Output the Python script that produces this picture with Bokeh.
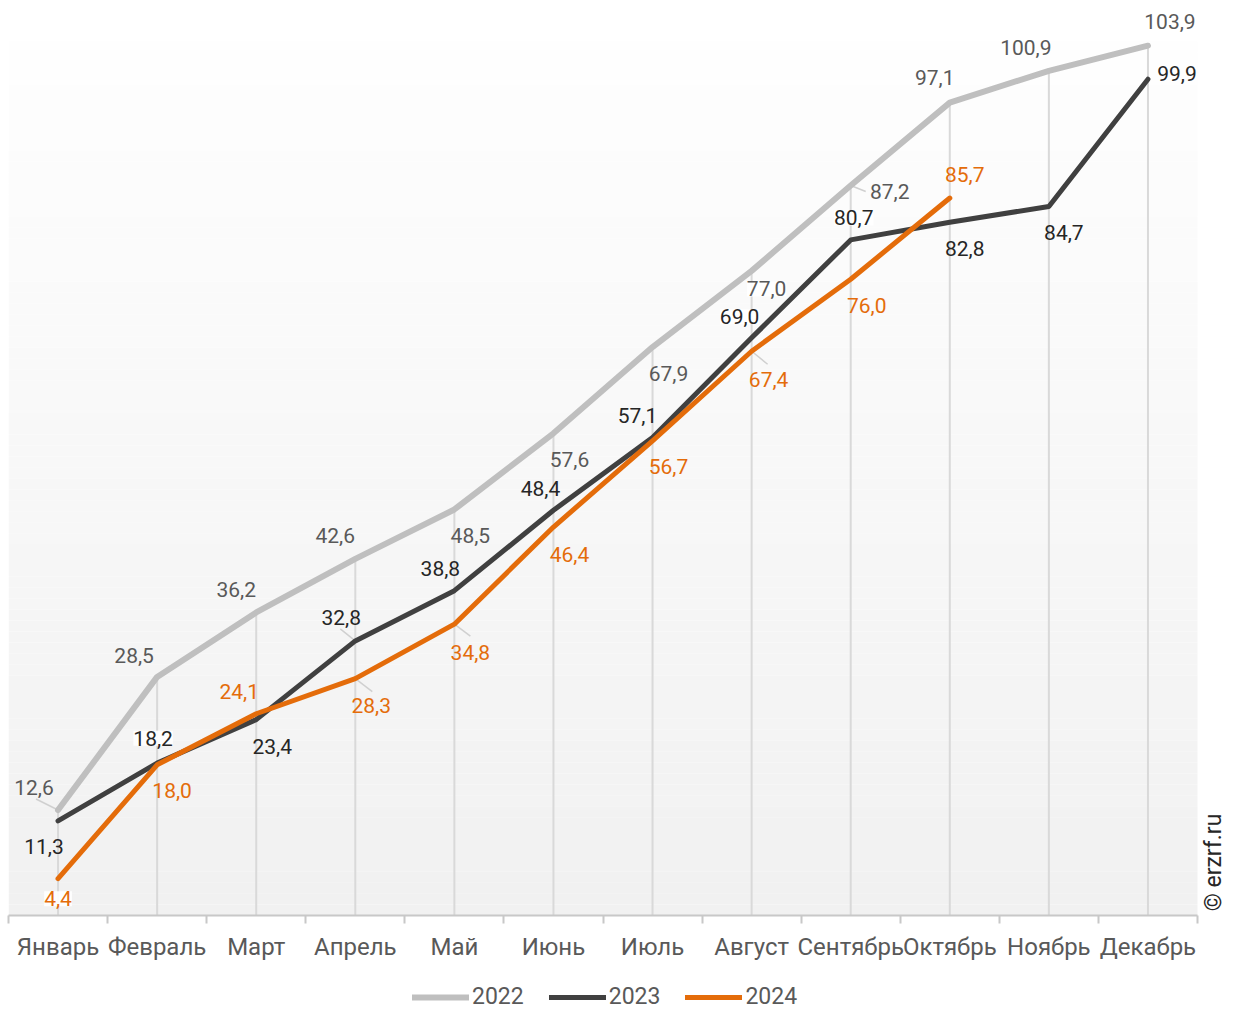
import math
from bokeh.plotting import figure
from bokeh.layouts import column
from bokeh.core.properties import value
from bokeh.models import (ColumnDataSource, LabelSet, Label, Legend, LegendItem,
                          FixedTicker, Range1d, CustomJSTickFormatter)
from bokeh.embed import file_html
from bokeh.resources import INLINE

# ---------------- data ----------------
months = ["Январь", "Февраль", "Март", "Апрель", "Май", "Июнь", "Июль",
          "Август", "Сентябрь", "Октябрь", "Ноябрь", "Декабрь"]
v2022 = [12.6, 28.5, 36.2, 42.6, 48.5, 57.6, 67.9, 77.0, 87.2, 97.1, 100.9, 103.9]
v2023 = [11.3, 18.2, 23.4, 32.8, 38.8, 48.4, 57.1, 69.0, 80.7, 82.8, 84.7, 99.9]
v2024 = [4.4, 18.0, 24.1, 28.3, 34.8, 46.4, 56.7, 67.4, 76.0, 85.7]
series_names = ["2022", "2023", "2024"]

# ---------------- styles / label placement (screen px: right, up) ----------------
colors = {"2022": "#bfbfbf", "2023": "#404040", "2024": "#e46c0a"}
label_colors = {"2022": "#595959", "2023": "#262626", "2024": "#e46c0a"}
widths = {"2022": 6, "2023": 5, "2024": 5}
offsets = {
    "2022": [(-24, 23), (-23, 21), (-20, 23), (-20, 23), (16, -26), (16, -26), (16, -26),
             (15, -18), (39, -6), (-15, 25), (-23, 23), (22, 24)],
    "2023": [(-14, -26), (-4, 25), (16, -27), (-14, 23), (-14, 22), (-13, 22), (-15, 22),
             (-12, 21), (3, 22), (15, -26), (15, -26), (29, 6)],
    "2024": [(0, -20), (15, -26), (-17, 22), (16, -27), (16, -28), (16, -27), (16, -26),
             (17, -28), (16, -26), (15, 24)],
}
boxed = {"2022": [7], "2023": [1, 7, 8], "2024": [0]}
leaders = [("2022", 0, (-22, 11)), ("2023", 3, (-15, 12)), ("2024", 3, (17, -13)),
           ("2024", 4, (16, -12)), ("2022", 8, (15, -6)), ("2024", 7, (16, -13))]

values = {"2022": v2022, "2023": v2023, "2024": v2024}

FIG_W, FIG_H = 1234, 965
LEG_H = 45
B_LEFT, B_BOTTOM = 8, 50
PLOT_RIGHT_GAP = 37   # px between plot area right edge and figure edge
PLOT_TOP_GAP = 41     # px between figure top and plot area top
Y_MAX = 104.4
n = len(months)
frame_w = FIG_W - B_LEFT
frame_h = FIG_H - B_BOTTOM
px_x = (frame_w - PLOT_RIGHT_GAP) / n
px_y = (frame_h - PLOT_TOP_GAP) / Y_MAX
x_hi = n - 0.5 + PLOT_RIGHT_GAP / px_x
y_hi = Y_MAX + PLOT_TOP_GAP / px_y

p = figure(width=FIG_W, height=FIG_H, x_range=Range1d(-0.5, x_hi),
           y_range=Range1d(0, y_hi), output_backend="svg", toolbar_location=None,
           y_axis_location=None, min_border_left=B_LEFT, min_border_right=0,
           min_border_top=0, min_border_bottom=B_BOTTOM)
p.outline_line_color = None
p.xgrid.visible = False
p.ygrid.visible = False
p.background_fill_color = "white"
p.border_fill_color = "white"

# gradient background via bands
nb = 80
lo_c, hi_c = 241, 254
band_b, band_t, band_c = [], [], []
for k in range(nb):
    band_b.append(Y_MAX * k / nb)
    band_t.append(Y_MAX * (k + 1) / nb)
    t = k / (nb - 1)
    c = int(round(lo_c + (hi_c - lo_c) * t))
    band_c.append("#%02x%02x%02x" % (c, c, c))
p.quad(left=-0.5, right=n - 0.5, bottom=band_b, top=band_t, fill_color=band_c,
       line_color=None)

# drop lines
xs = list(range(n))
tops = []
for i in xs:
    tops.append(max(values[s][i] for s in series_names if i < len(values[s])))
p.segment(x0=xs, y0=[0] * n, x1=xs, y1=tops, line_color="#d9d9d9", line_width=2)

# leader lines
lx0, ly0, lx1, ly1 = [], [], [], []
for s, i, (dx, dy) in leaders:
    v = values[s][i]
    lx0.append(i); ly0.append(v)
    lx1.append(i + dx / px_x); ly1.append(v + dy / px_y)
p.segment(x0=lx0, y0=ly0, x1=lx1, y1=ly1, line_color="#d0d0d0", line_width=1.5)

for s in series_names:
    vals = values[s]
    p.line(x=list(range(len(vals))), y=vals, line_color=colors[s],
           line_width=widths[s], line_cap="round", line_join="round")

for s in series_names:
    vals = values[s]
    for boxflag in (False, True):
        rows = [i for i in range(len(vals)) if (i in boxed[s]) == boxflag]
        if not rows:
            continue
        src = ColumnDataSource(dict(
            x=rows, y=[vals[i] for i in rows],
            t=[("%.1f" % vals[i]).replace(".", ",") for i in rows],
            xo=[offsets[s][i][0] for i in rows],
            yo=[offsets[s][i][1] for i in rows]))
        kw = {}
        if boxflag:
            kw = dict(background_fill_color="white", background_fill_alpha=0.9)
        ls = LabelSet(x="x", y="y", text="t", x_offset="xo", y_offset="yo", source=src,
                      text_font=value("Roboto"), text_font_size=value("21px"),
                      text_color=label_colors[s], text_align="center",
                      text_baseline="middle", **kw)
        p.add_layout(ls)

# axis
p.xaxis.ticker = FixedTicker(ticks=xs, minor_ticks=[i - 0.5 for i in range(n + 1)])
p.xaxis.formatter = CustomJSTickFormatter(args=dict(labels=months),
                                          code="return labels[Math.round(tick)] || '';")
p.xaxis.bounds = (-0.5, n - 0.5)
p.xaxis.major_tick_line_color = None
p.xaxis.major_tick_out = 0
p.xaxis.major_tick_in = 0
p.xaxis.minor_tick_line_color = "#c8c8c8"
p.xaxis.minor_tick_line_width = 2
p.xaxis.minor_tick_out = 8
p.xaxis.minor_tick_in = 0
p.xaxis.axis_line_color = "#c8c8c8"
p.xaxis.axis_line_width = 2
p.xaxis.major_label_text_font = "Roboto"
p.xaxis.major_label_text_font_size = "24px"
p.xaxis.major_label_text_color = "#595959"
p.xaxis.major_label_standoff = 9

# copyright
p.add_layout(Label(x=(n - 0.5) + 16 / px_x, y=53 / px_y, text="© erzrf.ru",
                   angle=math.pi / 2, text_font="Roboto", text_font_size="23px",
                   text_color="#262626", text_align="center", text_baseline="middle"))

# legend strip
pl = figure(width=FIG_W, height=LEG_H, x_range=Range1d(0, FIG_W), y_range=Range1d(0, LEG_H),
            output_backend="svg", toolbar_location=None, x_axis_location=None,
            y_axis_location=None, min_border=0)
pl.outline_line_color = None
pl.xgrid.visible = False
pl.ygrid.visible = False
items = []
nan = float("nan")
for s in series_names:
    r = pl.line(x=[nan], y=[nan], line_color=colors[s], line_width=widths[s],
                line_cap="round")
    items.append(LegendItem(label=s, renderers=[r]))
legend = Legend(items=items, orientation="horizontal", location=(404, 0),
                label_text_font="Roboto", label_text_font_size="23px",
                label_text_color="#595959", label_standoff=3, spacing=25,
                glyph_width=57, glyph_height=16, label_height=16,
                padding=0, margin=0, border_line_color=None,
                background_fill_alpha=0)
pl.add_layout(legend, "center")

layout = column(p, pl, spacing=0)
open("out.html", "w").write(file_html(layout, INLINE))
